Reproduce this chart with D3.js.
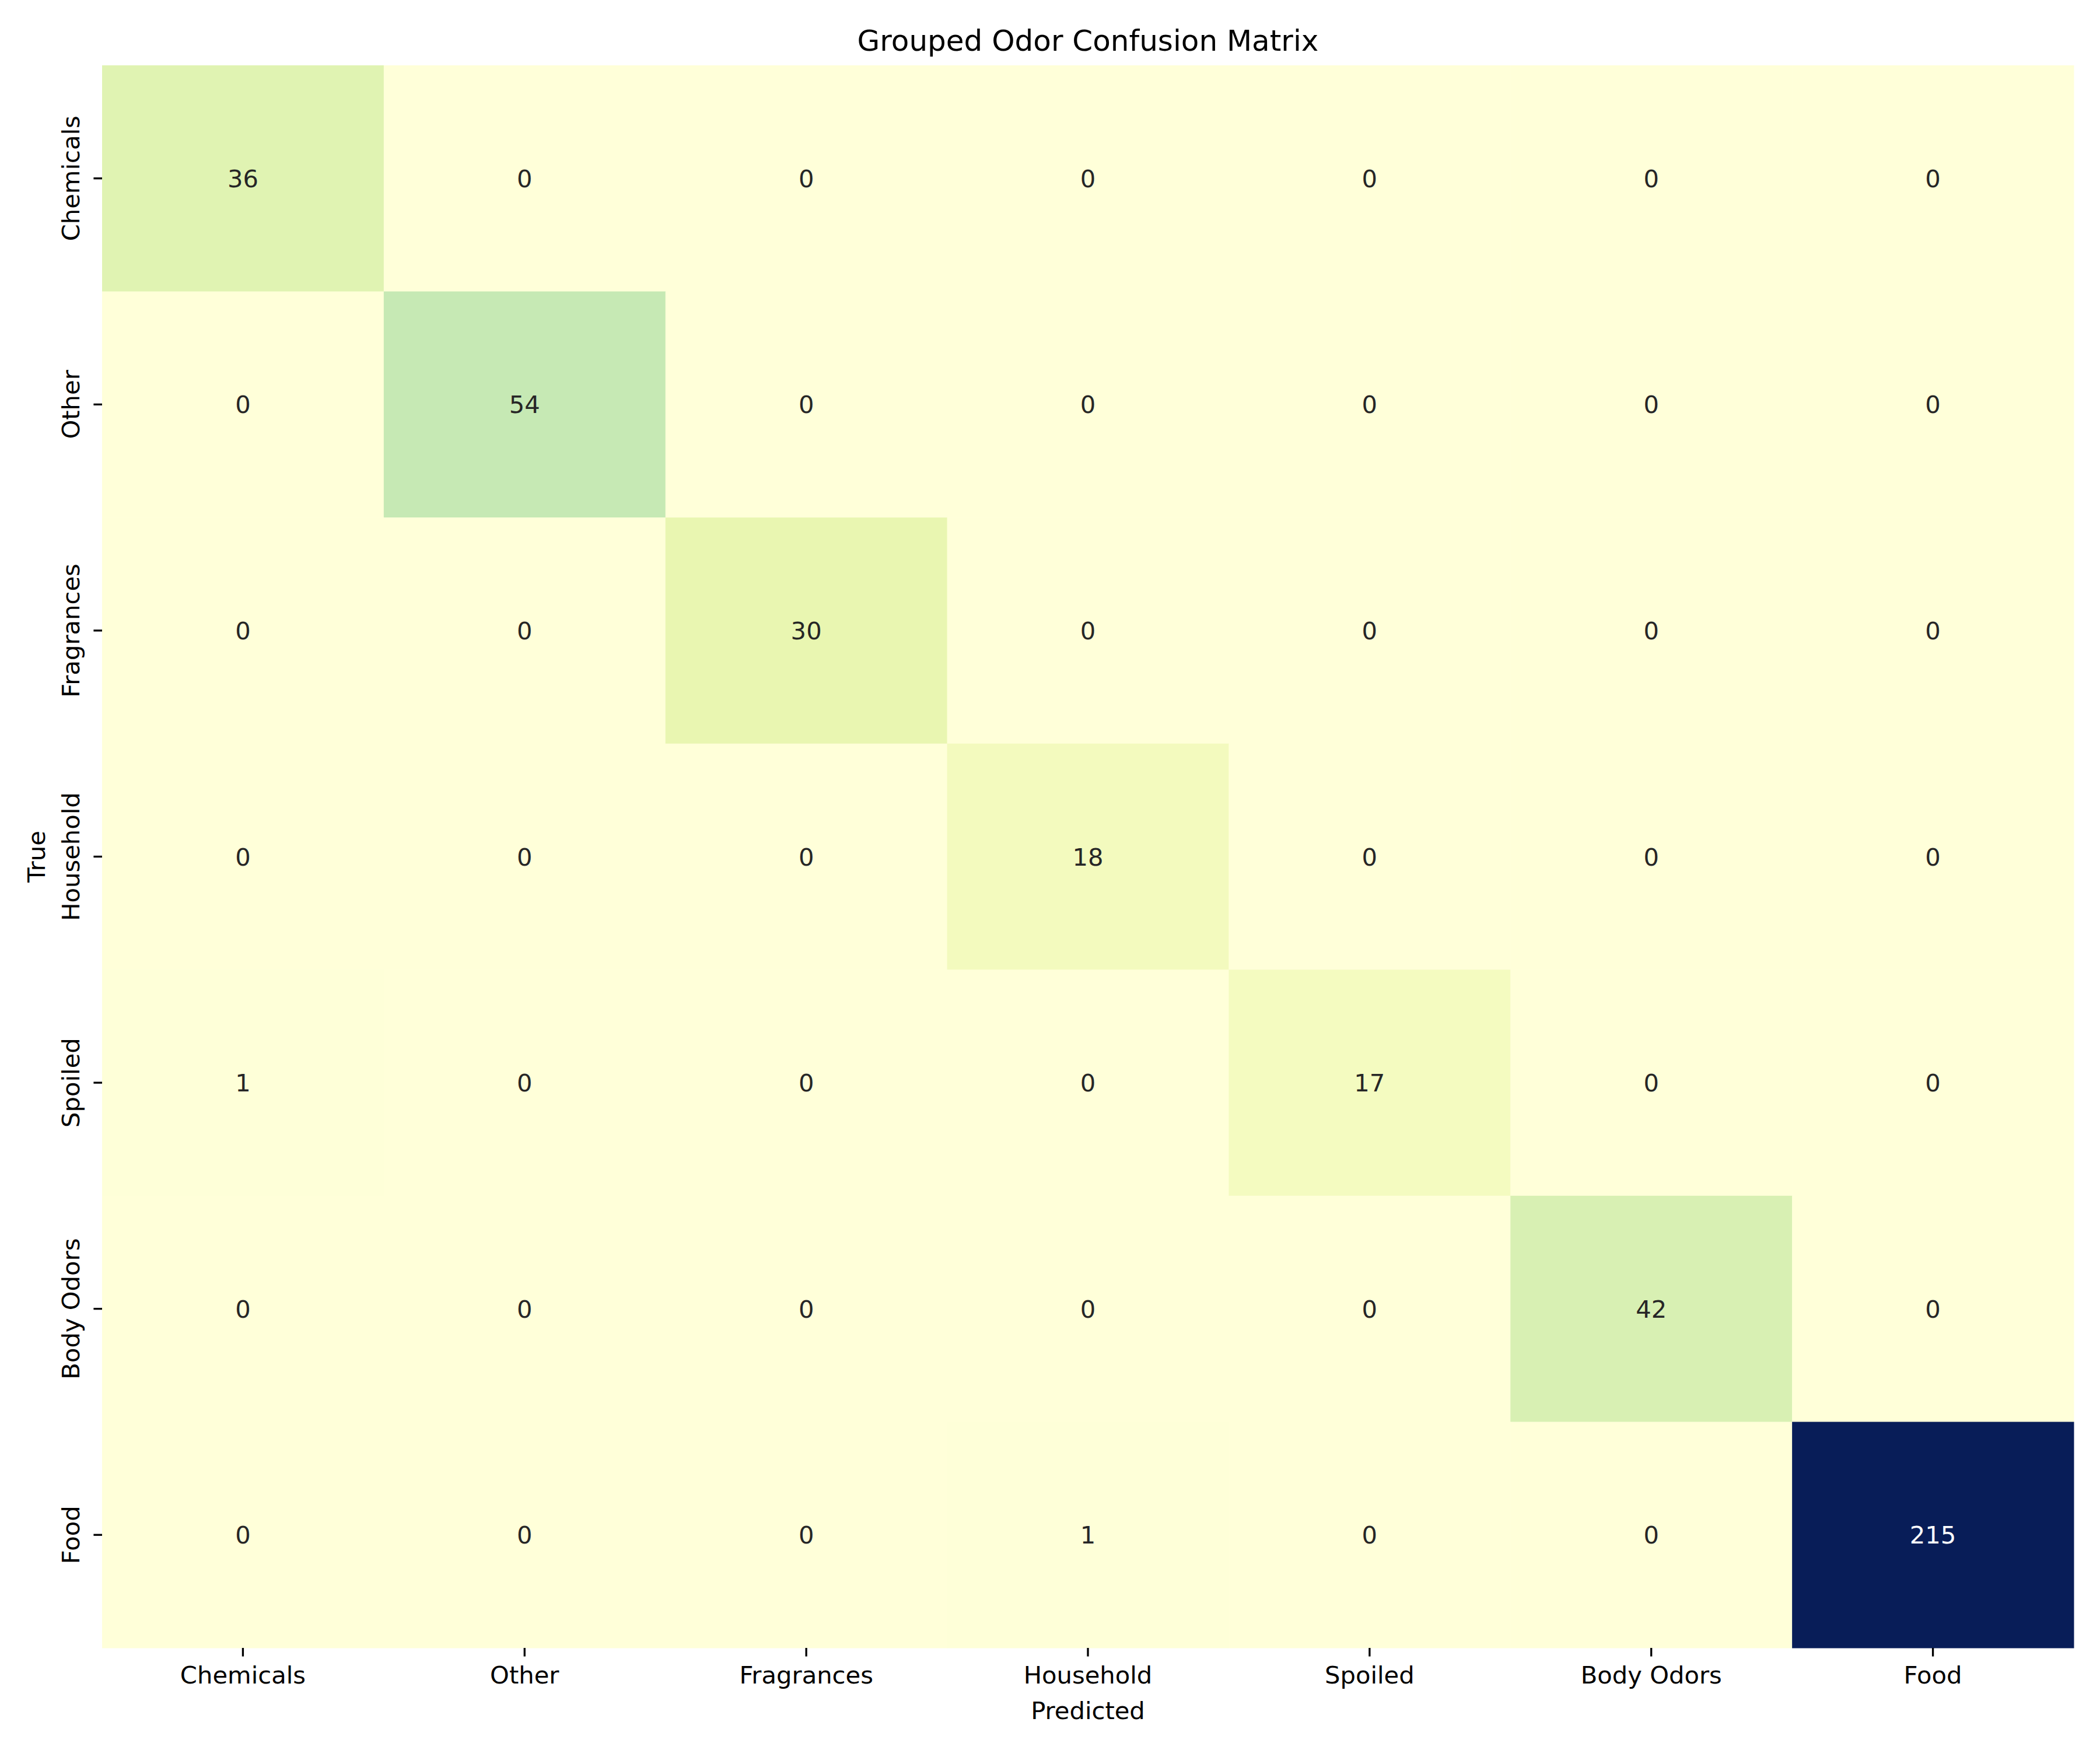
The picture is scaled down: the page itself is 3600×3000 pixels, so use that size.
<!DOCTYPE html>
<html>
<head>
<meta charset="utf-8">
<script src="https://cdn.jsdelivr.net/npm/d3@7"></script>
<style>
  body { margin: 0; background: #fff; }
  text { font-family: "DejaVu Sans", sans-serif; }
</style>
</head>
<body>
<div id="canvas"></div>
<script>
// --- data
var categories = ["Chemicals", "Other", "Fragrances", "Household", "Spoiled", "Body Odors", "Food"];
var matrix = [
  [36, 0, 0, 0, 0, 0, 0],
  [0, 54, 0, 0, 0, 0, 0],
  [0, 0, 30, 0, 0, 0, 0],
  [0, 0, 0, 18, 0, 0, 0],
  [1, 0, 0, 0, 17, 0, 0],
  [0, 0, 0, 0, 0, 42, 0],
  [0, 0, 0, 1, 0, 0, 215]
];
var titleText = "Grouped Odor Confusion Matrix";
var xTitle = "Predicted", yTitle = "True";

// --- margin convention
var W = 3600, H = 3000;
var M = {top: 112, right: 45, bottom: 175, left: 175};
var w = W - M.left - M.right,
    h = H - M.top - M.bottom;

var svg = d3.select('#canvas').append('svg')
  .attr('width', W).attr('height', H);

var plot = svg.append('g')
  .attr('transform', 'translate(' + M.left + ',' + M.top + ')');

// --- scales
var x = d3.scaleBand().domain(categories).range([0, w]);
var y = d3.scaleBand().domain(categories).range([0, h]);

// matplotlib YlGnBu (linear segments)
var ylgnbu = ["#ffffd9", "#edf8b1", "#c7e9b4", "#7fcdbb", "#41b6c4", "#1d91c0", "#225ea8", "#253494", "#081d58"];
var vmax = d3.max(matrix, function(r){ return d3.max(r); });
var color = d3.scaleLinear()
  .domain(ylgnbu.map(function(d, i){ return vmax * i / 8; }))
  .range(ylgnbu)
  .interpolate(d3.interpolateRgb);

var cells = [];
matrix.forEach(function(row, i){
  row.forEach(function(v, j){
    cells.push({r: categories[i], c: categories[j], v: v});
  });
});

plot.selectAll('rect.cell')
  .data(cells)
  .enter().append('rect')
  .attr('class', 'cell')
  .attr('x', function(d){ return x(d.c); })
  .attr('y', function(d){ return y(d.r); })
  .attr('width', x.bandwidth() + 0.5)
  .attr('height', y.bandwidth() + 0.5)
  .attr('fill', function(d){ return color(d.v); });

function lum(c){
  var rgb = d3.rgb(c);
  var f = function(u){ u /= 255; return u <= 0.03928 ? u / 12.92 : Math.pow((u + 0.055) / 1.055, 2.4); };
  return 0.2126 * f(rgb.r) + 0.7152 * f(rgb.g) + 0.0722 * f(rgb.b);
}

plot.selectAll('text.annot')
  .data(cells)
  .enter().append('text')
  .attr('class', 'annot')
  .attr('x', function(d){ return x(d.c) + x.bandwidth() / 2; })
  .attr('y', function(d){ return y(d.r) + y.bandwidth() / 2; })
  .attr('dy', '0.36em')
  .attr('text-anchor', 'middle')
  .attr('font-size', '41.7px')
  .attr('fill', function(d){ return lum(color(d.v)) > 0.408 ? '#262626' : '#ffffff'; })
  .text(function(d){ return d.v; });

// --- axes
var xAxis = d3.axisBottom(x).tickSize(14.6).tickPadding(14.6);
var yAxis = d3.axisLeft(y).tickSize(14.6).tickPadding(14.6);

var gx = plot.append('g')
  .attr('transform', 'translate(0,' + h + ')')
  .call(xAxis);
gx.select('.domain').remove();
gx.selectAll('line').attr('stroke', '#000').attr('stroke-width', 3.3);
gx.selectAll('text')
  .attr('font-family', '"DejaVu Sans", sans-serif')
  .attr('font-size', '41.7px')
  .attr('fill', '#000')
  .attr('dy', '0.76em');

var gy = plot.append('g').call(yAxis);
gy.select('.domain').remove();
gy.selectAll('line').attr('stroke', '#000').attr('stroke-width', 3.3);
gy.selectAll('text')
  .attr('font-family', '"DejaVu Sans", sans-serif')
  .attr('font-size', '41.7px')
  .attr('fill', '#000')
  .attr('text-anchor', 'middle')
  .attr('x', null)
  .attr('dy', null)
  .attr('transform', 'translate(-39,0) rotate(-90)');

// --- titles
svg.append('text')
  .attr('x', M.left + w / 2)
  .attr('y', 87)
  .attr('text-anchor', 'middle')
  .attr('font-size', '50px')
  .attr('fill', '#000')
  .text(titleText);

svg.append('text')
  .attr('x', M.left + w / 2)
  .attr('y', 2947)
  .attr('text-anchor', 'middle')
  .attr('font-size', '41.7px')
  .attr('fill', '#000')
  .text(xTitle);

svg.append('text')
  .attr('transform', 'translate(77,' + (M.top + h / 2) + ') rotate(-90)')
  .attr('text-anchor', 'middle')
  .attr('font-size', '41.7px')
  .attr('fill', '#000')
  .text(yTitle);
</script>
</body>
</html>
